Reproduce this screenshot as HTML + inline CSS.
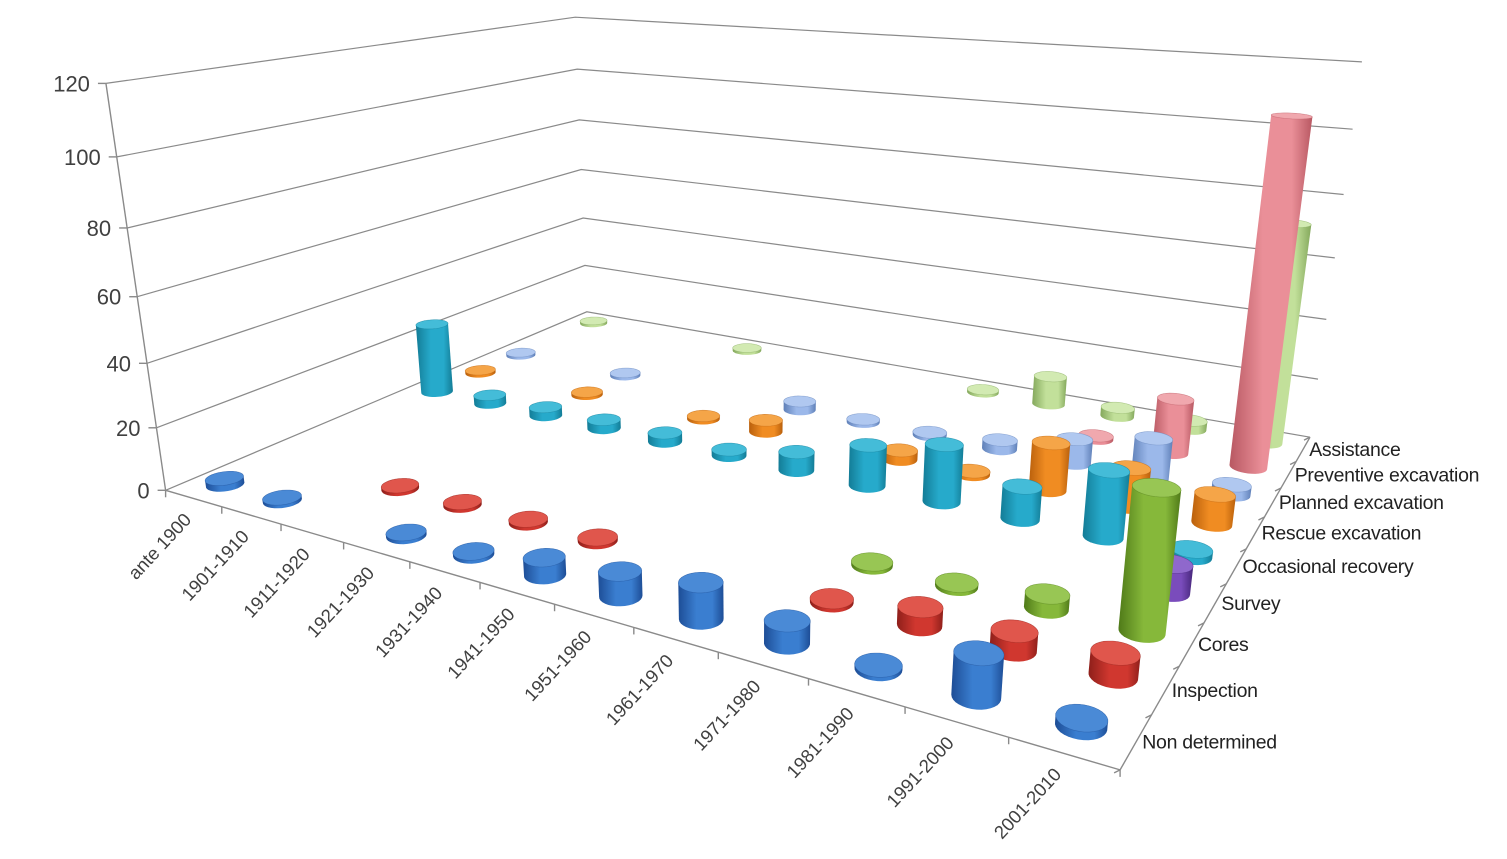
<!DOCTYPE html>
<html><head><meta charset="utf-8"><style>
html,body{margin:0;padding:0;background:#fff;}
svg{display:block;font-family:"Liberation Sans",sans-serif;}
</style></head><body>
<svg id="chart" width="1507" height="859" viewBox="0 0 1507 859" xmlns="http://www.w3.org/2000/svg">
<defs id="defs"></defs>
<g id="grid"></g>
<g id="axes"></g>
<g id="marks"></g>
<g id="labels"></g>
</svg>
<script>
const categories = ["ante 1900","1901-1910","1911-1920","1921-1930","1931-1940","1941-1950","1951-1960","1961-1970","1971-1980","1981-1990","1991-2000","2001-2010"];
const seriesNames = ["Non determined","Inspection","Cores","Survey","Occasional recovery","Rescue excavation","Planned excavation","Preventive excavation","Assistance"];
const valNonDetermined = [2,1,0,1,1,5,7,10,6,1,11,2];
const valInspection    = [0,0,1,1,1,1,0,0,1,5,5,6];
const valCores         = [0,0,0,0,0,0,0,0,1,1,4,38];
const valSurvey        = [0,0,0,0,0,0,0,0,0,0,0,8];
const valOccasional    = [25,3,3,3,3,2,6,13,18,10,20,2];
const valRescue        = [1,0,1,0,1,4,0,3,1,15,12,9];
const valPlanned       = [1,0,1,0,0,3,1,1,3,8,13,3];
const valPreventive    = [0,0,0,0,0,0,0,0,0,1,18,108];
const valAssistance    = [1,0,0,1,0,0,0,1,10,3,3,72];
const seriesValues = [valNonDetermined,valInspection,valCores,valSurvey,valOccasional,valRescue,valPlanned,valPreventive,valAssistance];
const valueTicks = [0,20,40,60,80,100,120];
const colors = [
 ["#1d4d96","#3a7ed0","#4a8ad6"],
 ["#8e1f1a","#d0372f","#e0564c"],
 ["#4f7a18","#86b83a","#98c654"],
 ["#46267a","#7a4cbc","#8f68cc"],
 ["#137c96","#26aacb","#44bcd8"],
 ["#b9600c","#f08c22","#f5a548"],
 ["#5f80b8","#9bb8ea","#b0c8f0"],
 ["#b85862","#ea8f98","#f0a8ae"],
 ["#84a85c","#c2e09a","#d2eab2"]
];

const corr = [
 [0,0,0,165,490],[0,0,20,157,428],[0,0,60,137,297],[0,0,100,117,157],[0,0,120,106,83],
 [0,9,0,587,312],[0,9,20,585,265],[0,9,60,581,170],[0,9,120,575,17],
 [12,9,0,1310,437],[12,9,120,1362,62],[12,0,0,1120,770]
];
function fit(){
  const A=[],b=[];
  corr.forEach(([X,Y,Z,u,v])=>{
    A.push([X,Y,Z,1,0,0,0,0,-u*X,-u*Y,-u*Z]);b.push(u);
    A.push([0,0,0,0,X,Y,Z,1,-v*X,-v*Y,-v*Z]);b.push(v);
  });
  const n=11,M=[];
  for(let i=0;i<n;i++){M.push([]);for(let j=0;j<=n;j++){let s=0;for(let k=0;k<A.length;k++)s+=A[k][i]*(j<n?A[k][j]:b[k]);M[i].push(s);}}
  for(let c=0;c<n;c++){let p=c;for(let r=c+1;r<n;r++)if(Math.abs(M[r][c])>Math.abs(M[p][c]))p=r;[M[c],M[p]]=[M[p],M[c]];
    for(let r=0;r<n;r++){if(r===c)continue;const f=M[r][c]/M[c][c];for(let j=c;j<=n;j++)M[r][j]-=f*M[c][j];}}
  return M.map((r,i)=>r[n]/r[i]);
}
const m=fit();
function P(X,Y,Z){const w=m[8]*X+m[9]*Y+m[10]*Z+1;return [(m[0]*X+m[1]*Y+m[2]*Z+m[3])/w,(m[4]*X+m[5]*Y+m[6]*Z+m[7])/w];}
const NS="http://www.w3.org/2000/svg";
function el(tag,attrs,parent){const e=document.createElementNS(NS,tag);for(const k in attrs)e.setAttribute(k,attrs[k]);parent.appendChild(e);return e;}
const pts=a=>a.map(p=>p[0].toFixed(1)+","+p[1].toFixed(1)).join(" ");

const defs=document.getElementById('defs');
colors.forEach((c,j)=>{
  const g=el('linearGradient',{id:'g'+j,x1:0,y1:0,x2:1,y2:0},defs);
  el('stop',{offset:0,'stop-color':c[0]},g);el('stop',{offset:0.4,'stop-color':c[1]},g);
  el('stop',{offset:0.75,'stop-color':c[1]},g);el('stop',{offset:1,'stop-color':c[0]},g);
});

const grid=document.getElementById('grid');
valueTicks.forEach(z=>{
  const l=el('polyline',{points:pts([P(0,0,z),P(0,9,z),P(12,9,z)]),fill:'none',stroke:'#8a8a8a','stroke-width':1.2},grid);
  
  
});
const axes=document.getElementById('axes');
function line(a,b,name){const l=el('line',{x1:a[0],y1:a[1],x2:b[0],y2:b[1],stroke:'#8a8a8a','stroke-width':1.4},axes);
  
  }
line(P(0,0,0),P(0,0,120),'value-axis');
line(P(0,0,0),P(12,0,0),'category-axis');
line(P(12,0,0),P(12,9,0),'series-axis');
valueTicks.forEach(z=>{const a=P(0,0,z);line(a,[a[0]-8,a[1]],'value-tick');});
for(let i=0;i<=12;i++){const a=P(i,0,0);line(a,[a[0],a[1]+7],'category-tick');}
for(let j=0;j<=9;j++){const a=P(12,j,0);line(a,[a[0]-6,a[1]+3],'series-tick');}

function hull(p){p=p.slice().sort((a,b)=>a[0]-b[0]||a[1]-b[1]);const cr=(o,a,b)=>(a[0]-o[0])*(b[1]-o[1])-(a[1]-o[1])*(b[0]-o[0]);
  const lo=[],up=[];for(const q of p){while(lo.length>=2&&cr(lo[lo.length-2],lo[lo.length-1],q)<=0)lo.pop();lo.push(q);}
  for(let i=p.length-1;i>=0;i--){const q=p[i];while(up.length>=2&&cr(up[up.length-2],up[up.length-1],q)<=0)up.pop();up.push(q);}
  up.pop();lo.pop();return lo.concat(up);}
const marks=document.getElementById('marks');
const items=[];
seriesValues.forEach((vals,j)=>vals.forEach((v,i)=>{if(v>0)items.push({i,j,v,d:P(i+0.5,j+0.5,0)[1]});}));
items.sort((a,b)=>a.d-b.d);
const R=0.23,N=32;
items.forEach(it=>{
  const cx=it.i+0.5,cy=it.j+0.5,base=[],top=[];
  for(let k=0;k<N;k++){const t=k/N*2*Math.PI;const x=cx+R*Math.cos(t),y=cy+R*Math.sin(t);base.push(P(x,y,0));top.push(P(x,y,it.v));}
  const g=el('g',{},marks);
  
  
  el('polygon',{points:pts(hull(base.concat(top))),fill:'url(#g'+it.j+')'},g);
  el('polygon',{points:pts(top),fill:colors[it.j][2],stroke:colors[it.j][0],'stroke-width':0.6,'stroke-opacity':0.5},g);
});

const labels=document.getElementById('labels');
valueTicks.forEach(z=>{const a=P(0,0,z);const t=el('text',{x:a[0]-16,y:a[1]+8,'text-anchor':'end','font-size':22,fill:'#404040'},labels);t.textContent=z;
  
  });
categories.forEach((c,i)=>{const a=P(i+0.5,0,0);const x=a[0]-1,y=a[1]+22;
  const t=el('text',{x:x,y:y,'text-anchor':'end','font-size':18.5,fill:'#404040',transform:`rotate(-47 ${x} ${y})`},labels);t.textContent=c;
  
  });
seriesNames.forEach((s,j)=>{const a=P(12,j+0.5,0);const t=el('text',{x:a[0]+6,y:a[1]+7,'font-size':19.5,fill:'#222','letter-spacing':-0.3},labels);t.textContent=s;
  
  });
</script>
</body></html>
